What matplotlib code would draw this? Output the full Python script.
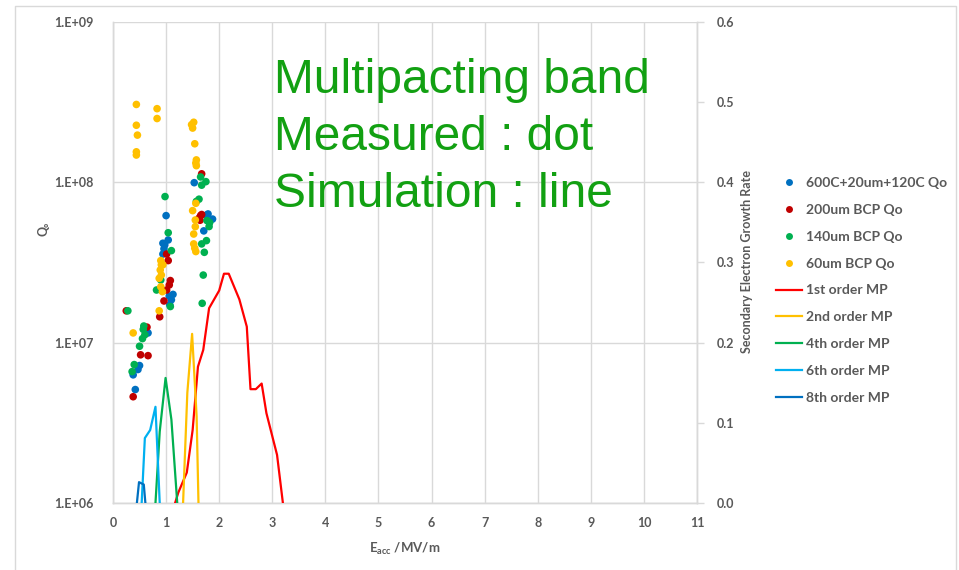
import matplotlib
matplotlib.use("Agg")
import matplotlib.pyplot as plt
from matplotlib.lines import Line2D
from matplotlib.ticker import FixedLocator, FixedFormatter, FuncFormatter

# ---------------- data ----------------
# Measured Q0 vs Eacc (MV/m)
blue_x = [0.38, 0.42, 0.50, 0.47, 0.66, 1.07, 1.10, 1.13, 1.06, 0.94, 0.96, 0.94, 0.975, 1.04, 1.00, 1.53, 1.71, 1.76, 1.79, 1.875]
blue_q = [6.3e6, 5.1e6, 7.2e6, 6.8e6, 1.15e7, 1.72e7, 1.85e7, 2.0e7, 1.95e7, 3.57e7, 3.85e7, 4.17e7, 4.07e7, 4.37e7, 6.2e7, 9.95e7, 4.98e7, 6.24e7, 6.35e7, 5.9e7]

red_x = [0.25, 0.52, 0.66, 0.38, 0.64, 0.88, 0.96, 1.01, 1.06, 1.08, 1.04, 1.01, 1.67, 1.65, 1.67, 1.62, 1.64]
red_q = [1.58e7, 8.4e6, 8.3e6, 4.6e6, 1.25e7, 1.45e7, 1.82e7, 2.13e7, 2.29e7, 2.44e7, 3.25e7, 3.57e7, 1.13e8, 6.2e7, 6.3e7, 5.97e7, 5.8e7]

green_x = [0.28, 0.40, 0.36, 0.50, 0.555, 0.60, 0.57, 0.58, 0.82, 0.90, 1.08, 1.10, 1.04, 0.98, 1.65, 1.75, 1.67, 1.62, 1.57, 1.77, 1.81, 1.82, 1.67, 1.76, 1.72, 1.70, 1.68]
green_q = [1.58e7, 7.3e6, 6.6e6, 9.5e6, 1.06e7, 1.12e7, 1.21e7, 1.27e7, 2.13e7, 2.46e7, 1.68e7, 3.75e7, 4.85e7, 8.15e7, 1.08e8, 1.01e8, 9.6e7, 7.85e7, 7.6e7, 5.77e7, 5.3e7, 5.6e7, 4.13e7, 4.33e7, 3.66e7, 2.64e7, 1.76e7]

orange_x = [0.44, 0.83, 0.44, 0.83, 0.46, 0.44, 0.44, 1.48, 1.52, 1.50, 1.54, 1.57, 1.56, 1.57, 1.56, 1.50, 1.55, 1.55, 1.52, 1.52, 1.54, 1.56, 0.90, 0.91, 0.89, 0.91, 0.87, 0.90, 0.93, 0.87, 0.38, 0.94]
orange_q = [3.06e8, 2.88e8, 2.27e8, 2.5e8, 1.97e8, 1.55e8, 1.48e8, 2.29e8, 2.37e8, 2.18e8, 1.74e8, 1.38e8, 1.32e8, 1.27e8, 7.4e7, 6.66e7, 5.82e7, 5.29e7, 4.76e7, 4.13e7, 3.88e7, 3.7e7, 3.25e7, 3.06e7, 2.84e7, 2.64e7, 2.52e7, 2.23e7, 2.08e7, 1.58e7, 1.15e7, 3.06e7]

# Simulation: secondary electron growth rate vs Eacc
mp1_x = [1.17, 1.23, 1.39, 1.50, 1.60, 1.70, 1.81, 2.00, 2.09, 2.18, 2.38, 2.52, 2.59, 2.69, 2.80, 2.89, 3.09, 3.20]
mp1_y = [0.0, 0.013, 0.038, 0.091, 0.17, 0.191, 0.243, 0.265, 0.286, 0.286, 0.254, 0.22, 0.142, 0.142, 0.149, 0.112, 0.06, 0.0]
mp2_x = [1.32, 1.40, 1.49, 1.575, 1.61]
mp2_y = [0.0, 0.1375, 0.211, 0.108, 0.0]
mp4_x = [0.80, 0.88, 0.99, 1.10, 1.21]
mp4_y = [0.0, 0.089, 0.156, 0.104, 0.0]
mp6_x = [0.54, 0.60, 0.70, 0.80, 0.88]
mp6_y = [0.0, 0.081, 0.091, 0.12, 0.0]
mp8_x = [0.45, 0.49, 0.58, 0.61]
mp8_y = [0.0, 0.026, 0.023, 0.0]

scatter_labels = ["600C+20um+120C Qo", "200um BCP Qo", "140um BCP Qo", "60um BCP Qo"]
line_labels = ["1st order MP", "2nd order MP", "4th order MP", "6th order MP", "8th order MP"]
x_ticks = list(range(0, 12))
q_ticks = [1e6, 1e7, 1e8, 1e9]
q_tick_labels = ["1.E+06", "1.E+07", "1.E+08", "1.E+09"]
r_ticks = [0.0, 0.1, 0.2, 0.3, 0.4, 0.5, 0.6]

# ---------------- style ----------------
W, H = 959, 570
fig = plt.figure(figsize=(W / 100, H / 100), dpi=100)
TXT = "#595959"
GRID = "#d9d9d9"
FONT = ["Lato", "DejaVu Sans"]

ax = fig.add_axes([113 / W, 1 - 503 / H, (697 - 113) / W, (503 - 22) / H])
ax2 = ax.twinx()

ax.set_yscale("log")
ax.set_ylim(1e6, 1e9)
ax.set_xlim(0, 11)
ax2.set_ylim(0, 0.6)

ax.yaxis.set_major_locator(FixedLocator(q_ticks))
ax.yaxis.set_major_formatter(FixedFormatter(q_tick_labels))
ax.yaxis.set_minor_locator(FixedLocator([]))
ax.xaxis.set_major_locator(FixedLocator(x_ticks))
ax2.yaxis.set_major_locator(FixedLocator(r_ticks))
ax2.yaxis.set_major_formatter(FuncFormatter(lambda v, p: f"{v:.1f}"))

ax.grid(True, color=GRID, lw=1.0)
ax.set_axisbelow(True)
for a in (ax, ax2):
    for s in a.spines.values():
        s.set_color(GRID)
        s.set_linewidth(1.0)
    a.spines["top"].set_visible(False)

ax.tick_params(axis="y", length=0, pad=14, labelsize=9, labelcolor=TXT)
ax.tick_params(axis="x", length=0, pad=10, labelsize=9, labelcolor=TXT)
ax2.tick_params(axis="y", length=5, width=1, color=GRID, pad=9, labelsize=9, labelcolor=TXT)
for lab in ax.get_xticklabels() + ax.get_yticklabels() + ax2.get_yticklabels():
    lab.set_family(FONT)
    lab.set_fontweight("bold")

colors_sc = ["#0070C0", "#C00000", "#00B050", "#FFC000"]
sc_data = [(blue_x, blue_q), (red_x, red_q), (green_x, green_q), (orange_x, orange_q)]
for (xs, qs), c in zip(sc_data, colors_sc):
    ax.scatter(xs, qs, s=30, color=c, edgecolors="none", zorder=3)

colors_ln = ["#FF0000", "#FFC000", "#00B050", "#00B0F0", "#0070C0"]
ln_data = [(mp1_x, mp1_y), (mp2_x, mp2_y), (mp4_x, mp4_y), (mp6_x, mp6_y), (mp8_x, mp8_y)]
for (xs, ys), c in zip(ln_data, colors_ln):
    ax2.plot(xs, ys, color=c, lw=1.6, zorder=4, clip_on=True)

ax.set_ylabel("Q\u2080", family=FONT, fontweight="bold", fontsize=9, color=TXT)
ax.yaxis.set_label_coords(-(113 - 50) / (697 - 113), 0.57)
ax2.set_ylabel("Secondary Electron Growth Rate", family=FONT, fontweight="bold", fontsize=9, color=TXT)
ax2.yaxis.set_label_coords(1 + (741 - 697) / (697 - 113), (503 - 262) / (503 - 22))
ax.set_xlabel(r"E$_{\mathregular{acc}}$ /MV/m", family=FONT, fontweight="bold", fontsize=9.5, color=TXT)
ax.xaxis.set_label_coords((405 - 113) / (697 - 113), -(541 - 503) / (503 - 22))

# legend
handles = [Line2D([], [], ls="none", marker="o", ms=5, color=c, mec="none") for c in colors_sc]
handles += [Line2D([], [], color=c, lw=1.6) for c in colors_ln]
leg = fig.legend(handles, scatter_labels + line_labels, loc="upper left",
                 bbox_to_anchor=(776 / W, 1 - 177 / H), bbox_transform=fig.transFigure,
                 frameon=False, prop={"family": FONT, "weight": "bold", "size": 10},
                 labelcolor=TXT, handlelength=1.85, handletextpad=0.3, labelspacing=1.07,
                 borderpad=0, borderaxespad=0)

# big annotation
GREEN = "#12A012"
for txt, yb in [("Multipacting band", 93), ("Measured : dot", 150), ("Simulation : line", 207)]:
    fig.text(274 / W, 1 - yb / H, txt, family=["Liberation Sans", "DejaVu Sans"], fontsize=34.5,
             color=GREEN, ha="left", va="baseline")

# outer border
bx0, bx1, by0 = 15 / W, 956 / W, 1 - 6 / H
fig.add_artist(Line2D([bx0, bx0, bx1, bx1], [0, by0, by0, 0], transform=fig.transFigure,
                      color=GRID, lw=1.0))

fig.savefig("out.png", dpi=100)
